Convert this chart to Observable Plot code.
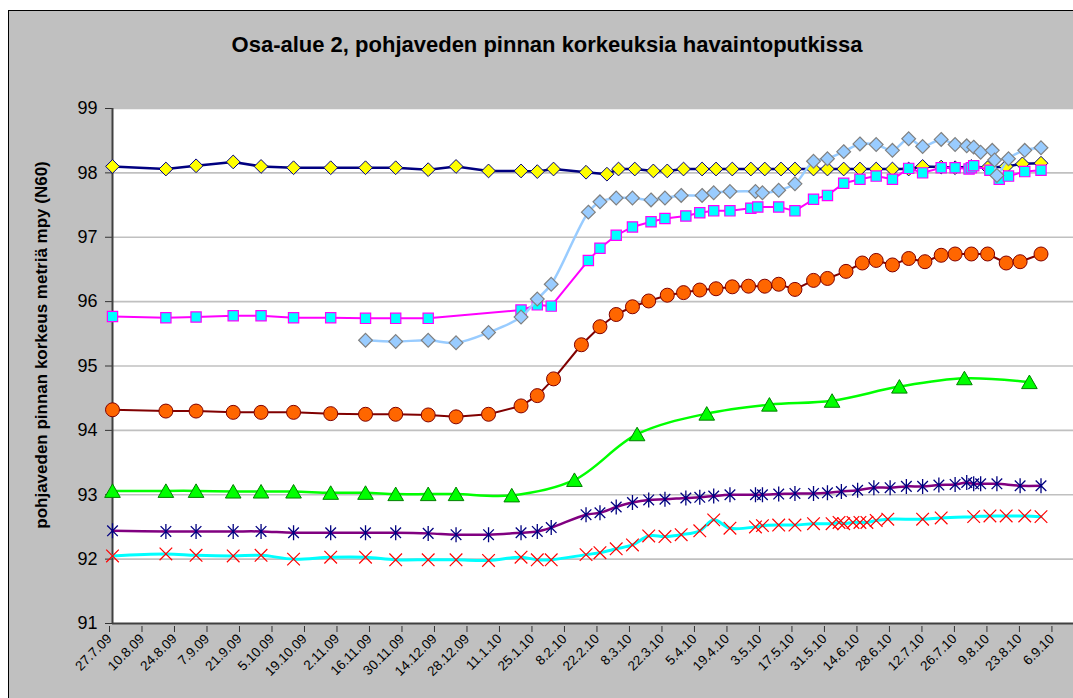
<!DOCTYPE html>
<html>
<head>
<meta charset="utf-8">
<script src="https://cdn.jsdelivr.net/npm/d3@7"></script>
<script src="https://cdn.jsdelivr.net/npm/@observablehq/plot@0.6"></script>
<style>
  html, body { margin: 0; padding: 0; background: #ffffff; }
  #wrap { position: relative; width: 1073px; height: 698px; overflow: hidden; }
  #bg { position: absolute; left: 8px; top: 10px; width: 1080px; height: 700px; background: #c0c0c0; border-left: 1px solid #000; border-top: 1px solid #000; }
  #chart { position: absolute; left: 0; top: 0; }
</style>
</head>
<body>
<div id="wrap"><div id="bg"></div><div id="chart"></div></div>
<script>
// ---- Data ----
const titleText = "Osa-alue 2, pohjaveden pinnan korkeuksia havaintoputkissa";
const yLabelText = "pohjaveden pinnan korkeus metriä mpy (N60)";

const xTickDates = ["2009-07-27","2009-08-10","2009-08-24","2009-09-07","2009-09-21","2009-10-05","2009-10-19","2009-11-02","2009-11-16","2009-11-30","2009-12-14","2009-12-28","2010-01-11","2010-01-25","2010-02-08","2010-02-22","2010-03-08","2010-03-22","2010-04-05","2010-04-19","2010-05-03","2010-05-17","2010-05-31","2010-06-14","2010-06-28","2010-07-12","2010-07-26","2010-08-09","2010-08-23","2010-09-06"];
const yTicks = [91, 92, 93, 94, 95, 96, 97, 98, 99];

const earlyDates = ["2009-07-27","2009-08-19","2009-09-01","2009-09-17","2009-09-29","2009-10-13","2009-10-29","2009-11-13","2009-11-26","2009-12-10","2009-12-22","2010-01-05"];

// yellow diamonds / navy line
const s1Dates = earlyDates.concat(["2010-01-19","2010-01-26","2010-02-02","2010-02-16","2010-02-25","2010-03-02","2010-03-09","2010-03-17","2010-03-23","2010-03-30","2010-04-07","2010-04-13","2010-04-20","2010-04-28","2010-05-04","2010-05-11","2010-05-17","2010-05-25","2010-05-31","2010-06-07","2010-06-14","2010-06-21","2010-06-28","2010-07-05","2010-07-11","2010-07-19","2010-07-25","2010-08-01","2010-08-08","2010-08-16","2010-08-23","2010-08-31"]);
const s1Values = [98.10,98.06,98.11,98.17,98.10,98.08,98.08,98.08,98.08,98.05,98.10,98.03,
  98.03,98.02,98.06,98.01,97.98,98.06,98.06,98.03,98.03,98.06,98.06,98.06,98.06,98.06,98.06,98.06,98.06,98.06,98.06,98.06,98.06,98.06,98.06,98.06,98.10,98.09,98.08,98.10,98.08,98.10,98.14,98.15];

// light blue diamonds
const s2Dates = ["2009-11-13","2009-11-26","2009-12-10","2009-12-22","2010-01-05","2010-01-19","2010-01-26","2010-02-01","2010-02-17","2010-02-22","2010-03-01","2010-03-08","2010-03-16","2010-03-22","2010-03-29","2010-04-07","2010-04-12","2010-04-19","2010-04-30","2010-05-03","2010-05-10","2010-05-17","2010-05-25","2010-05-31","2010-06-07","2010-06-14","2010-06-21","2010-06-28","2010-07-05","2010-07-11","2010-07-19","2010-07-25","2010-07-30","2010-08-02","2010-08-05","2010-08-10","2010-08-11","2010-08-12","2010-08-17","2010-08-24","2010-08-31"];
const s2Values = [95.40,95.38,95.40,95.36,95.52,95.76,96.04,96.27,97.39,97.55,97.61,97.61,97.58,97.61,97.65,97.65,97.69,97.71,97.71,97.69,97.73,97.83,98.18,98.22,98.33,98.45,98.44,98.35,98.53,98.41,98.52,98.44,98.42,98.40,98.32,98.35,98.20,97.96,98.22,98.35,98.39];

// cyan squares / magenta line
const s3Dates = earlyDates.slice(0, 10).concat(["2010-01-19","2010-01-26","2010-02-01","2010-02-17","2010-02-22","2010-03-01","2010-03-08","2010-03-16","2010-03-22","2010-03-31","2010-04-06","2010-04-12","2010-04-19","2010-04-28","2010-05-01","2010-05-10","2010-05-17","2010-05-25","2010-05-31","2010-06-07","2010-06-14","2010-06-21","2010-06-28","2010-07-05","2010-07-11","2010-07-19","2010-07-25","2010-07-31","2010-08-01","2010-08-02","2010-08-09","2010-08-13","2010-08-17","2010-08-24","2010-08-31"]);
const s3Values = [95.77,95.75,95.76,95.78,95.78,95.75,95.75,95.74,95.74,95.74,
  95.87,95.95,95.93,96.64,96.83,97.03,97.16,97.24,97.29,97.33,97.38,97.41,97.41,97.45,97.47,97.47,97.41,97.59,97.65,97.84,97.90,97.95,97.90,98.07,98.00,98.08,98.08,98.06,98.08,98.11,98.04,97.90,97.95,98.02,98.04];

// orange circles / dark red line
const s4Dates = earlyDates.concat(["2010-01-19","2010-01-26","2010-02-02","2010-02-14","2010-02-22","2010-03-01","2010-03-08","2010-03-15","2010-03-23","2010-03-30","2010-04-06","2010-04-13","2010-04-20","2010-04-27","2010-05-04","2010-05-10","2010-05-17","2010-05-25","2010-05-31","2010-06-08","2010-06-15","2010-06-21","2010-06-28","2010-07-05","2010-07-12","2010-07-19","2010-07-25","2010-08-01","2010-08-08","2010-08-16","2010-08-22","2010-08-31"]);
const s4Values = [94.32,94.30,94.30,94.28,94.28,94.28,94.26,94.25,94.25,94.24,94.21,94.25,
  94.38,94.54,94.80,95.33,95.61,95.80,95.92,96.01,96.10,96.14,96.18,96.20,96.23,96.24,96.24,96.27,96.19,96.33,96.36,96.47,96.60,96.64,96.57,96.67,96.62,96.72,96.74,96.74,96.74,96.60,96.62,96.74];

// green triangles / green line
const s5Dates = earlyDates.slice(0, 11).concat(["2010-01-15","2010-02-11","2010-03-10","2010-04-09","2010-05-06","2010-06-02","2010-07-01","2010-07-29","2010-08-26"]);
const s5Values = [93.06,93.06,93.06,93.05,93.05,93.05,93.03,93.03,93.01,93.01,93.01,92.99,93.23,93.94,94.26,94.40,94.46,94.68,94.81,94.75];

// navy asterisks / purple line
const s6Dates = earlyDates.concat(["2010-01-19","2010-01-26","2010-02-01","2010-02-16","2010-02-22","2010-03-01","2010-03-08","2010-03-15","2010-03-22","2010-03-31","2010-04-06","2010-04-12","2010-04-19","2010-04-30","2010-05-03","2010-05-10","2010-05-17","2010-05-25","2010-05-31","2010-06-06","2010-06-13","2010-06-20","2010-06-27","2010-07-04","2010-07-11","2010-07-18","2010-07-25","2010-07-30","2010-08-02","2010-08-05","2010-08-12","2010-08-22","2010-08-31"]);
const s6Values = [92.44,92.43,92.43,92.43,92.43,92.41,92.41,92.41,92.41,92.40,92.38,92.38,
  92.41,92.43,92.49,92.69,92.72,92.81,92.88,92.92,92.93,92.95,92.96,92.98,93.00,93.00,93.00,93.01,93.02,93.02,93.03,93.05,93.07,93.11,93.11,93.13,93.13,93.15,93.16,93.19,93.17,93.17,93.17,93.14,93.14];

// red crosses / cyan line
const s7Dates = earlyDates.concat(["2010-01-19","2010-01-26","2010-02-01","2010-02-16","2010-02-22","2010-03-01","2010-03-08","2010-03-15","2010-03-22","2010-03-29","2010-04-06","2010-04-12","2010-04-19","2010-04-30","2010-05-03","2010-05-10","2010-05-17","2010-05-25","2010-06-02","2010-06-05","2010-06-07","2010-06-11","2010-06-14","2010-06-17","2010-06-21","2010-06-26","2010-07-11","2010-07-19","2010-08-02","2010-08-09","2010-08-16","2010-08-24","2010-08-31"]);
const s7Values = [92.05,92.08,92.06,92.05,92.06,92.00,92.03,92.03,91.99,91.99,91.99,91.98,
  92.03,91.99,91.99,92.07,92.10,92.16,92.22,92.36,92.35,92.38,92.44,92.61,92.48,92.50,92.52,92.53,92.53,92.55,92.55,92.57,92.55,92.57,92.57,92.57,92.60,92.62,92.62,92.64,92.66,92.67,92.67,92.67,92.66];

// ---- Build ----
const rows = (dates, vals) => dates.map((d, i) => ({date: new Date(d + "T00:00:00Z"), value: vals[i]}));
const d1 = rows(s1Dates, s1Values), d2 = rows(s2Dates, s2Values), d3s = rows(s3Dates, s3Values),
      d4 = rows(s4Dates, s4Values), d5 = rows(s5Dates, s5Values), d6 = rows(s6Dates, s6Values), d7 = rows(s7Dates, s7Values);

const starSymbol = {
  draw(context, size) {
    const r = Math.sqrt(size / Math.PI);
    const k = r * Math.SQRT1_2;
    context.moveTo(0, -r); context.lineTo(0, r);
    context.moveTo(-k, -k); context.lineTo(k, k);
    context.moveTo(-k, k); context.lineTo(k, -k);
  }
};
const xSymbol = {
  draw(context, size) {
    const r = Math.sqrt(size / Math.PI);
    context.moveTo(-r, -r); context.lineTo(r, r);
    context.moveTo(-r, r); context.lineTo(r, -r);
  }
};

const fmt = d3.utcFormat("%-d.%-m.%y");
const xTicks = xTickDates.map(d => new Date(d + "T00:00:00Z"));
const xStart = new Date("2009-07-27T00:00:00Z");
const xEnd = new Date("2010-09-14T00:00:00Z");
const X = {x: "date", y: "value"};

const plot = Plot.plot({
  width: 1073,
  height: 698,
  marginLeft: 112,
  marginRight: 0,
  marginTop: 108,
  marginBottom: 75,
  x: {type: "utc", domain: [xStart, xEnd]},
  y: {domain: [91, 99]},
  style: {background: "transparent", fontFamily: "'Liberation Sans', Arial, sans-serif", color: "#000"},
  marks: [
    Plot.frame({fill: "#ffffff", stroke: "none"}),
    Plot.gridY(yTicks.filter(t => t > 91), {stroke: "#c0c0c0", strokeOpacity: 1, strokeWidth: 1.6}),
    Plot.axisY(yTicks, {tickSize: 7, tickPadding: 8, fontSize: 18, stroke: "#333", label: null, tickFormat: d => String(d)}),
    Plot.axisX(xTicks, {tickSize: 6, tickPadding: 4, tickRotate: -45, fontSize: 13.5, dx: -3, dy: 3, stroke: "#333", label: null, tickFormat: fmt}),
    Plot.ruleX([xStart], {stroke: "#404040", strokeWidth: 2}),
    Plot.ruleY([91], {stroke: "#404040", strokeWidth: 2}),

    Plot.line(d1, {...X, stroke: "#000080", strokeWidth: 2.5}),
    Plot.dot(d1, {...X, symbol: "diamond2", r: 6.2, fill: "#ffff00", stroke: "#000080", strokeWidth: 1}),

    Plot.line(d3s, {...X, stroke: "#ff00ff", strokeWidth: 2}),
    Plot.dot(d3s, {...X, symbol: "square", r: 5.8, fill: "#00ffff", stroke: "#ff00ff", strokeWidth: 1.2}),

    Plot.line(d4, {...X, stroke: "#800000", strokeWidth: 2}),
    Plot.dot(d4, {...X, symbol: "circle", r: 7, fill: "#ff6600", stroke: "#800000", strokeWidth: 1}),

    Plot.line(d5, {...X, stroke: "#00ff00", strokeWidth: 2.5, curve: "catmull-rom"}),
    Plot.dot(d5, {...X, symbol: "triangle", r: 5.8, dy: 2, fill: "#00ff00", stroke: "#008000", strokeWidth: 1}),

    Plot.line(d6, {...X, stroke: "#800080", strokeWidth: 2.5, curve: "catmull-rom"}),
    Plot.dot(d6, {...X, symbol: starSymbol, r: 7.5, fill: "none", stroke: "#000080", strokeWidth: 1.3}),

    Plot.line(d7, {...X, stroke: "#00ffff", strokeWidth: 3, curve: "catmull-rom"}),
    Plot.dot(d7, {...X, symbol: xSymbol, r: 6.3, fill: "none", stroke: "#ff0000", strokeWidth: 1.2}),

    Plot.line(d2, {...X, stroke: "#99ccff", strokeWidth: 2.5, curve: "catmull-rom"}),
    Plot.dot(d2, {...X, symbol: "diamond2", r: 6.2, fill: "#99ccff", stroke: "#808080", strokeWidth: 1.2})
  ]
});

const svg = d3.select(plot);
svg.append("text")
  .attr("x", 547).attr("y", 52)
  .attr("text-anchor", "middle")
  .attr("font-family", "'Liberation Sans', Arial, sans-serif")
  .attr("font-weight", "bold").attr("font-size", 22)
  .attr("fill", "#000")
  .text(titleText);
svg.append("text")
  .attr("transform", "translate(47,345) rotate(-90)")
  .attr("text-anchor", "middle")
  .attr("font-family", "'Liberation Sans', Arial, sans-serif")
  .attr("font-weight", "bold").attr("font-size", 17)
  .attr("fill", "#000")
  .text(yLabelText);

document.getElementById("chart").appendChild(plot);
</script>
</body>
</html>
